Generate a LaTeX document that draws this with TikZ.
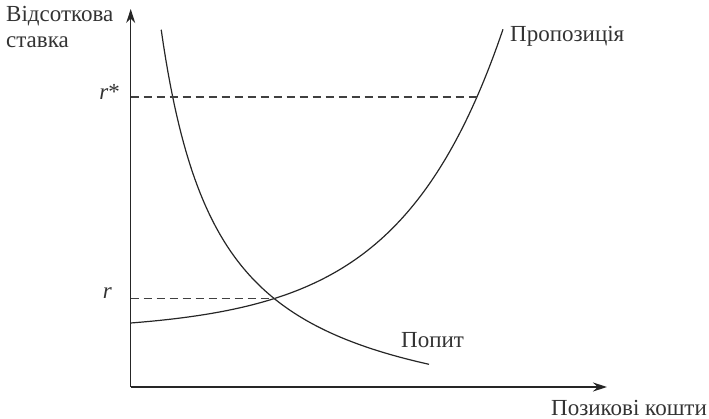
\documentclass[tikz,border=0pt]{standalone}
\usepackage{fontspec}
\setmainfont{Liberation Serif}
\usetikzlibrary{arrows.meta,positioning,calc,intersections}

\begin{document}
\begin{tikzpicture}[x=1pt,y=-1pt,font=\fontsize{23}{26}\selectfont,
 axis/.style={draw=black!85,line width=1.3pt,-{Stealth[length=14pt,width=9pt]}},
 curve/.style={draw=black!85,line width=1.2pt,samples=120},
 guide/.style={draw=black!75,line width=1.1pt,dash pattern=on 8pt off 5pt},
 lbl/.style={text=black!80,inner sep=0pt}]
\useasboundingbox (0,0) rectangle (709,419);
\coordinate (origin) at (130.7,387);
\coordinate (ytip) at (130.7,9);
\coordinate (xtip) at (607,387);
\coordinate (hi) at (477,97);
% axes
\draw[axis] (origin) -- (ytip);
\draw[axis] (origin) -- (xtip);
% supply and demand
\draw[curve,name path=supply] plot[domain=130.7:503] (\x,{331-8*exp(0.00975*(\x-130.7))});
\draw[curve,name path=demand] plot[domain=161.2:429] (\x,{437-237/((\x-103)/100)});
\path[name intersections={of=supply and demand,by=eq}];
% levels
\draw[guide] (origin |- hi) -- (hi);
\draw[guide] (origin |- eq) -- (eq);
\node[lbl,anchor=base east] (rhi) at (120,100) {\textit{r}*};
\node[lbl,anchor=base east] (req) at (112,299) {\textit{r}};
\node[lbl,anchor=north west,align=left] (ylbl) at (6,6) {Відсоткова\\ставка};
\node[lbl,anchor=base west] (slbl) at (510,42) {Пропозиція};
\node[lbl,anchor=base west] (dlbl) at (401,348) {Попит};
\node[lbl,anchor=base east] (xlbl) at (707,415) {Позикові кошти};
\end{tikzpicture}
\end{document}
